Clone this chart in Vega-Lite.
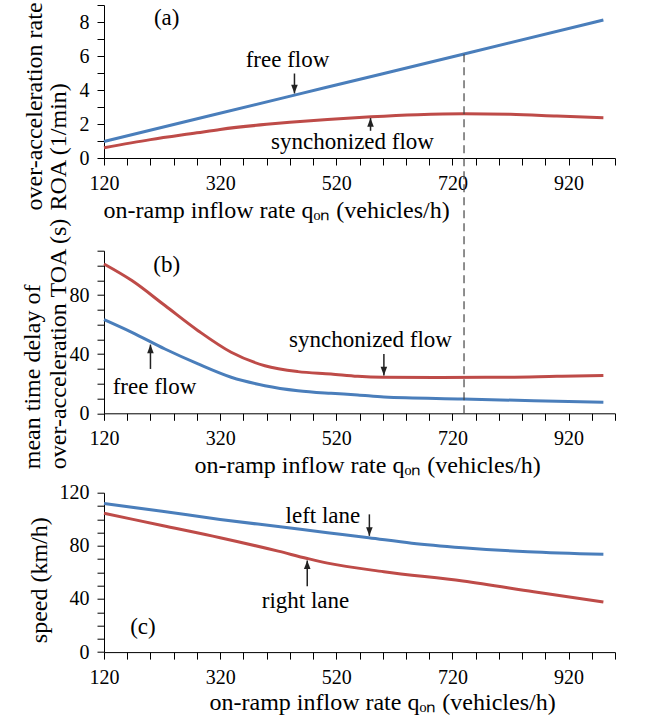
{
  "$schema": "https://vega.github.io/schema/vega-lite/v6.json",
  "background": "white",
  "padding": {"left": 20, "top": -5, "right": 5, "bottom": 5},
  "config": {
    "view": {"stroke": null},
    "font": "Liberation Serif",
    "axis": {
      "domainColor": "#000000", "tickColor": "#000000", "labelColor": "#000000", "titleColor": "#000000",
      "labelFont": "Liberation Serif", "titleFont": "Liberation Serif",
      "labelFontSize": 20, "titleFontSize": 24, "titleFontWeight": "normal",
      "grid": false, "tickSize": 7, "labelPadding": 8, "domainWidth": 1, "tickWidth": 1,
      "labelFlush": false, "labelOverlap": false
    }
  },
  "datasets": {
    "lines": [
      {"panel": "a", "series": "free flow", "q": 120, "v": 0.97},
      {"panel": "a", "series": "free flow", "q": 300, "v": 2.47},
      {"panel": "a", "series": "free flow", "q": 500, "v": 4.13},
      {"panel": "a", "series": "free flow", "q": 740, "v": 6.12},
      {"panel": "a", "series": "free flow", "q": 980, "v": 8.12},
      {"panel": "a", "series": "synchronized flow", "q": 120, "v": 0.6},
      {"panel": "a", "series": "synchronized flow", "q": 200, "v": 1.08},
      {"panel": "a", "series": "synchronized flow", "q": 280, "v": 1.48},
      {"panel": "a", "series": "synchronized flow", "q": 320, "v": 1.68},
      {"panel": "a", "series": "synchronized flow", "q": 400, "v": 1.98},
      {"panel": "a", "series": "synchronized flow", "q": 440, "v": 2.1},
      {"panel": "a", "series": "synchronized flow", "q": 505, "v": 2.27},
      {"panel": "a", "series": "synchronized flow", "q": 580, "v": 2.43},
      {"panel": "a", "series": "synchronized flow", "q": 660, "v": 2.55},
      {"panel": "a", "series": "synchronized flow", "q": 740, "v": 2.6},
      {"panel": "a", "series": "synchronized flow", "q": 820, "v": 2.57},
      {"panel": "a", "series": "synchronized flow", "q": 900, "v": 2.47},
      {"panel": "a", "series": "synchronized flow", "q": 980, "v": 2.37},
      {"panel": "b", "series": "synchronized flow", "q": 120, "v": 101},
      {"panel": "b", "series": "synchronized flow", "q": 168, "v": 89.8},
      {"panel": "b", "series": "synchronized flow", "q": 225, "v": 72.9},
      {"panel": "b", "series": "synchronized flow", "q": 282, "v": 55.9},
      {"panel": "b", "series": "synchronized flow", "q": 339, "v": 41.3},
      {"panel": "b", "series": "synchronized flow", "q": 397, "v": 32.2},
      {"panel": "b", "series": "synchronized flow", "q": 454, "v": 28.2},
      {"panel": "b", "series": "synchronized flow", "q": 511, "v": 26.6},
      {"panel": "b", "series": "synchronized flow", "q": 557, "v": 25},
      {"panel": "b", "series": "synchronized flow", "q": 600, "v": 24.4},
      {"panel": "b", "series": "synchronized flow", "q": 700, "v": 24.3},
      {"panel": "b", "series": "synchronized flow", "q": 800, "v": 24.4},
      {"panel": "b", "series": "synchronized flow", "q": 900, "v": 25},
      {"panel": "b", "series": "synchronized flow", "q": 980, "v": 25.5},
      {"panel": "b", "series": "free flow", "q": 120, "v": 63.4},
      {"panel": "b", "series": "free flow", "q": 168, "v": 54.8},
      {"panel": "b", "series": "free flow", "q": 225, "v": 43.5},
      {"panel": "b", "series": "free flow", "q": 282, "v": 33.4},
      {"panel": "b", "series": "free flow", "q": 339, "v": 24.4},
      {"panel": "b", "series": "free flow", "q": 397, "v": 18.7},
      {"panel": "b", "series": "free flow", "q": 454, "v": 15.3},
      {"panel": "b", "series": "free flow", "q": 511, "v": 13.5},
      {"panel": "b", "series": "free flow", "q": 557, "v": 12.4},
      {"panel": "b", "series": "free flow", "q": 602, "v": 11},
      {"panel": "b", "series": "free flow", "q": 738, "v": 9.7},
      {"panel": "b", "series": "free flow", "q": 860, "v": 8.5},
      {"panel": "b", "series": "free flow", "q": 980, "v": 7.4},
      {"panel": "c", "series": "left lane", "q": 120, "v": 111.8},
      {"panel": "c", "series": "left lane", "q": 220, "v": 106},
      {"panel": "c", "series": "left lane", "q": 320, "v": 99.9},
      {"panel": "c", "series": "left lane", "q": 420, "v": 94.5},
      {"panel": "c", "series": "left lane", "q": 505, "v": 89.9},
      {"panel": "c", "series": "left lane", "q": 576, "v": 86.1},
      {"panel": "c", "series": "left lane", "q": 650, "v": 82},
      {"panel": "c", "series": "left lane", "q": 738, "v": 78.6},
      {"panel": "c", "series": "left lane", "q": 850, "v": 75.5},
      {"panel": "c", "series": "left lane", "q": 980, "v": 73.6},
      {"panel": "c", "series": "right lane", "q": 120, "v": 104.5},
      {"panel": "c", "series": "right lane", "q": 220, "v": 95.3},
      {"panel": "c", "series": "right lane", "q": 320, "v": 86.1},
      {"panel": "c", "series": "right lane", "q": 420, "v": 76},
      {"panel": "c", "series": "right lane", "q": 470, "v": 70.5},
      {"panel": "c", "series": "right lane", "q": 505, "v": 67},
      {"panel": "c", "series": "right lane", "q": 602, "v": 60.5},
      {"panel": "c", "series": "right lane", "q": 738, "v": 53.5},
      {"panel": "c", "series": "right lane", "q": 860, "v": 45.5},
      {"panel": "c", "series": "right lane", "q": 980, "v": 37.7}
    ],
    "notes": [
      {"panel": "a", "label": "(a)", "q": 228, "v": 7.81},
      {"panel": "a", "label": "free flow", "q": 436, "v": 5.38},
      {"panel": "a", "label": "synchonized flow", "q": 548, "v": 0.53},
      {"panel": "b", "label": "(b)", "q": 228, "v": 95.7},
      {"panel": "b", "label": "free flow", "q": 207, "v": 13},
      {"panel": "b", "label": "synchonized flow", "q": 579, "v": 44.9},
      {"panel": "c", "label": "(c)", "q": 187, "v": 13.3},
      {"panel": "c", "label": "left lane", "q": 497, "v": 97.4},
      {"panel": "c", "label": "right lane", "q": 467, "v": 33.4}
    ],
    "arrows": [
      {"panel": "a", "q": 448, "v": 4.97, "v2": 3.8, "dir": "down"},
      {"panel": "a", "q": 579, "v": 1.6, "v2": 2.35, "dir": "up"},
      {"panel": "b", "q": 200, "v": 30, "v2": 46.5, "dir": "up"},
      {"panel": "b", "q": 602, "v": 40.2, "v2": 25.6, "dir": "down"},
      {"panel": "c", "q": 577, "v": 103.7, "v2": 87.5, "dir": "down"},
      {"panel": "c", "q": 470, "v": 49.6, "v2": 69, "dir": "up"}
    ],
    "marker": [
      {"panel": "b", "q": 740, "v": 0, "v2": 243}
    ]
  },
  "bounds": "flush",
  "spacing": 92.7,
  "vconcat": [
    {
      "width": 511, "height": 153,
      "encoding": {
        "x": {"field": "q", "type": "quantitative", "scale": {"domain": [120, 1000], "nice": false, "zero": false},
          "axis": {"values": [120,160,200,240,280,320,360,400,440,480,520,560,600,640,680,720,760,800,840,880,920,960,1000],
            "format": "d", "labelExpr": "(datum.value - 120) % 200 == 0 ? datum.label : ''",
            "title": "on-ramp inflow rate qₒₙ  (vehicles/h)", "titleAlign": "left", "titleBaseline": "alphabetic", "titleX": -1, "titleY": 59}},
        "y": {"field": "v", "type": "quantitative", "scale": {"domain": [0, 9], "nice": false},
          "axis": {"values": [0,1,2,3,4,5,6,7,8,9], "format": "d", "labelExpr": "datum.value % 2 == 0 ? datum.label : ''",
            "title": ["over-acceleration rate", "ROA (1/min)"], "titleAlign": "left", "titleBaseline": "alphabetic", "titleLineHeight": 24, "titleX": -63, "titleY": 205}}
      },
      "layer": [
        {"data": {"name": "lines"}, "transform": [{"filter": "datum.panel == 'a'"}],
          "mark": {"type": "line", "strokeWidth": 3, "interpolate": "monotone"},
          "encoding": {"color": {"field": "series", "type": "nominal", "legend": null,
            "scale": {"domain": ["free flow", "synchronized flow", "left lane", "right lane"], "range": ["#4A7EBB", "#BE4B48", "#4A7EBB", "#BE4B48"]}}, "detail": {"field": "series"}}},
        {"data": {"name": "arrows"}, "transform": [{"filter": "datum.panel == 'a'"}],
          "mark": {"type": "rule", "color": "#222222", "strokeWidth": 1.5},
          "encoding": {"y2": {"field": "v2"}}},
        {"data": {"name": "arrows"}, "transform": [{"filter": "datum.panel == 'a'"}],
          "mark": {"type": "point", "filled": true, "color": "#222222", "size": 300, "opacity": 1, "strokeWidth": 0},
          "encoding": {"y": {"field": "v2", "type": "quantitative"},
            "shape": {"field": "dir", "type": "nominal", "legend": null, "scale": {"domain": ["down", "up"], "range": ["M0,0L-0.38,-1L0.38,-1Z", "M0,0L-0.38,1L0.38,1Z"]}}}},
        {"data": {"name": "notes"}, "transform": [{"filter": "datum.panel == 'a'"}],
          "mark": {"type": "text", "font": "Liberation Serif", "fontSize": 23, "baseline": "alphabetic", "align": "center", "color": "#000000"},
          "encoding": {"text": {"field": "label"}}}
      ]
    },
    {
      "bounds": "flush",
      "spacing": 79,
      "vconcat": [
        {
          "width": 511, "height": 162.6,
          "encoding": {
            "x": {"field": "q", "type": "quantitative", "scale": {"domain": [120, 1000], "nice": false, "zero": false},
              "axis": {"values": [120,160,200,240,280,320,360,400,440,480,520,560,600,640,680,720,760,800,840,880,920,960,1000],
                "format": "d", "labelExpr": "(datum.value - 120) % 200 == 0 ? datum.label : ''",
                "title": "on-ramp inflow rate qₒₙ  (vehicles/h)", "titleAlign": "left", "titleBaseline": "alphabetic", "titleX": 90, "titleY": 59}},
            "y": {"field": "v", "type": "quantitative", "scale": {"domain": [0, 110], "nice": false},
              "axis": {"values": [0,10,20,30,40,50,60,70,80,90,100,110], "format": "d", "labelExpr": "datum.value % 40 == 0 ? datum.label : ''",
                "title": ["mean time delay of", "over-acceleration TOA (s)"], "titleAlign": "left", "titleBaseline": "alphabetic", "titleLineHeight": 26, "titleX": -65, "titleY": 218}}
          },
          "layer": [
            {"data": {"name": "lines"}, "transform": [{"filter": "datum.panel == 'b'"}],
              "mark": {"type": "line", "strokeWidth": 3, "interpolate": "monotone"},
              "encoding": {"color": {"field": "series", "type": "nominal", "legend": null}, "detail": {"field": "series"}}},
            {"data": {"name": "marker"}, "transform": [{"filter": "datum.panel == 'b'"}],
              "mark": {"type": "rule", "color": "#444444", "strokeWidth": 1.2, "strokeDash": [8, 5]},
              "encoding": {"y2": {"field": "v2"}}},
            {"data": {"name": "arrows"}, "transform": [{"filter": "datum.panel == 'b'"}],
              "mark": {"type": "rule", "color": "#222222", "strokeWidth": 1.5},
              "encoding": {"y2": {"field": "v2"}}},
            {"data": {"name": "arrows"}, "transform": [{"filter": "datum.panel == 'b'"}],
              "mark": {"type": "point", "filled": true, "color": "#222222", "size": 300, "opacity": 1, "strokeWidth": 0},
              "encoding": {"y": {"field": "v2", "type": "quantitative"},
                "shape": {"field": "dir", "type": "nominal", "legend": null}}},
            {"data": {"name": "notes"}, "transform": [{"filter": "datum.panel == 'b'"}],
              "mark": {"type": "text", "font": "Liberation Serif", "fontSize": 23, "baseline": "alphabetic", "align": "center", "color": "#000000"},
              "encoding": {"text": {"field": "label"}}}
          ]
        },
        {
          "width": 511, "height": 159.4,
          "encoding": {
            "x": {"field": "q", "type": "quantitative", "scale": {"domain": [120, 1000], "nice": false, "zero": false},
              "axis": {"values": [120,160,200,240,280,320,360,400,440,480,520,560,600,640,680,720,760,800,840,880,920,960,1000],
                "format": "d", "labelExpr": "(datum.value - 120) % 200 == 0 ? datum.label : ''",
                "title": "on-ramp inflow rate qₒₙ  (vehicles/h)", "titleAlign": "left", "titleBaseline": "alphabetic", "titleX": 105, "titleY": 57}},
            "y": {"field": "v", "type": "quantitative", "scale": {"domain": [0, 120], "nice": false},
              "axis": {"values": [0,10,20,30,40,50,60,70,80,90,100,110,120], "format": "d", "labelExpr": "datum.value % 40 == 0 ? datum.label : ''",
                "title": "speed (km/h)", "titleAlign": "left", "titleBaseline": "alphabetic", "titleX": -58, "titleY": 150}}
          },
          "layer": [
            {"data": {"name": "lines"}, "transform": [{"filter": "datum.panel == 'c'"}],
              "mark": {"type": "line", "strokeWidth": 3, "interpolate": "monotone"},
              "encoding": {"color": {"field": "series", "type": "nominal", "legend": null}, "detail": {"field": "series"}}},
            {"data": {"name": "arrows"}, "transform": [{"filter": "datum.panel == 'c'"}],
              "mark": {"type": "rule", "color": "#222222", "strokeWidth": 1.5},
              "encoding": {"y2": {"field": "v2"}}},
            {"data": {"name": "arrows"}, "transform": [{"filter": "datum.panel == 'c'"}],
              "mark": {"type": "point", "filled": true, "color": "#222222", "size": 300, "opacity": 1, "strokeWidth": 0},
              "encoding": {"y": {"field": "v2", "type": "quantitative"},
                "shape": {"field": "dir", "type": "nominal", "legend": null}}},
            {"data": {"name": "notes"}, "transform": [{"filter": "datum.panel == 'c'"}],
              "mark": {"type": "text", "font": "Liberation Serif", "fontSize": 23, "baseline": "alphabetic", "align": "center", "color": "#000000"},
              "encoding": {"text": {"field": "label"}}}
          ]
        }
      ]
    }
  ]
}
